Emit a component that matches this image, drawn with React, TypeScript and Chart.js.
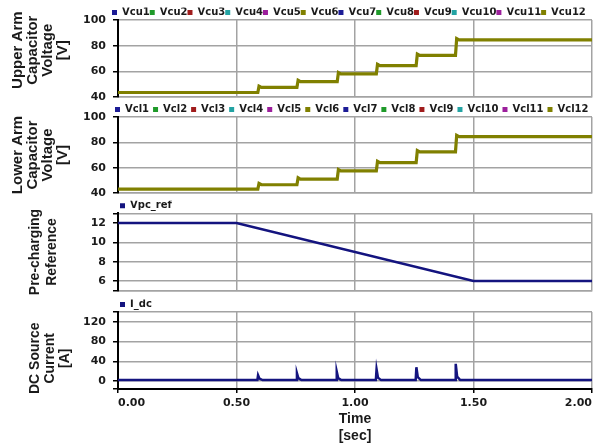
import React, { useEffect, useRef } from 'react';
import { Chart, registerables } from 'chart.js';

Chart.register(...registerables);

// ---------- data ----------
const timeTicks = [0, 0.5, 1.0, 1.5, 2.0];

const upperLabels = ['Vcu1', 'Vcu2', 'Vcu3', 'Vcu4', 'Vcu5', 'Vcu6', 'Vcu7', 'Vcu8', 'Vcu9', 'Vcu10', 'Vcu11', 'Vcu12'];
const lowerLabels = ['Vcl1', 'Vcl2', 'Vcl3', 'Vcl4', 'Vcl5', 'Vcl6', 'Vcl7', 'Vcl8', 'Vcl9', 'Vcl10', 'Vcl11', 'Vcl12'];
const seriesColors = ['#1c1c96', '#1f9a2a', '#a01c1c', '#23a3a3', '#9c1f9c', '#808000'];

const upperTime = [0, 0.59, 0.595, 0.605, 0.755, 0.76, 0.77, 0.925, 0.93, 0.94, 1.09, 1.095, 1.105, 1.258, 1.263, 1.273, 1.424, 1.429, 1.439, 2.0];
const upperVolt = [43.5, 43.5, 48.5, 47.5, 47.5, 53, 52, 52, 59, 58, 58, 65.5, 64.5, 64.5, 73.5, 72.5, 72.5, 85.5, 84.5, 84.5];

const lowerTime = [0, 0.59, 0.595, 0.605, 0.755, 0.76, 0.77, 0.925, 0.93, 0.94, 1.09, 1.095, 1.105, 1.258, 1.263, 1.273, 1.424, 1.429, 1.439, 2.0];
const lowerVolt = [43, 43, 47.5, 46.5, 46.5, 52, 51, 51, 58.5, 57.5, 57.5, 65, 64, 64, 73.5, 72.5, 72.5, 85.5, 84.5, 84.5];

const refTime = [0, 0.5, 1.5, 2.0];
const refValue = [12, 12, 6, 6];

const idcTime = [0, 0.588, 0.591, 0.597, 0.61, 0.752, 0.755, 0.761, 0.774, 0.92, 0.923, 0.929, 0.942, 1.088, 1.091, 1.097, 1.11, 1.256, 1.259, 1.265, 1.278, 1.422, 1.425, 1.431, 1.444, 2.0];
const idcValue = [2, 2, 12, 5, 2, 2, 16, 6, 2, 2, 19, 6, 2, 2, 24, 7, 2, 2, 28, 8, 2, 2, 35, 9, 2, 2];

const voltTicks = [40, 60, 80, 100];
const voltLabels = [40, 60, 80, 100];
const refTicks = [5, 6, 8, 10, 12, 13];
const refLabels = [6, 8, 10, 12];
const idcTicks = [-16, 0, 40, 80, 120, 140];
const idcLabels = [0, 40, 80, 120];

// ---------- styles ----------
const textColor = '#1a1a1a';
const gridColor = '#a3a3a3';
const tickFont = { family: 'DejaVu Sans', size: 11, weight: 'bold' as const };
const legendFont = { family: 'DejaVu Sans', size: 10, weight: 'bold' as const };

const legendX = {
  id: 'legendX',
  afterLayout(chart: any, _args: any, opts: any) {
    const lg = chart.legend;
    if (!lg || opts == null || opts.x == null) return;
    const w = lg.width;
    lg.left = opts.x;
    lg.right = opts.x + w;
  },
};

function points(xs: number[], ys: number[]) {
  return xs.map((x, k) => ({ x, y: ys[k] }));
}

type PanelCfg = {
  datasets: any[];
  padTop: number;
  padBottom: number;
  legendH: number;
  legendPad: number;
  legendLeft: number;
  yMin: number;
  yMax: number;
  yTicks: number[];
  yLabels: number[];
  yTitle: string[];
  yTitleFont: any;
  yTitlePad: number;
  showX: boolean;
};

function buildChart(canvas: HTMLCanvasElement, p: PanelCfg) {
  return new Chart(canvas, {
    type: 'line',
    data: { datasets: p.datasets },
    options: {
      responsive: false,
      animation: false,
      events: [],
      layout: { padding: { top: p.padTop, bottom: p.padBottom, left: 0, right: 2 } },
      plugins: {
        legend: {
          display: true,
          position: 'top',
          align: 'start',
          maxHeight: p.legendH,
          labels: {
            font: legendFont,
            color: textColor,
            boxWidth: 5,
            boxHeight: 5,
            padding: p.legendPad,
            generateLabels: (chart: any) =>
              (Chart.defaults.plugins.legend.labels as any)
                .generateLabels(chart)
                .map((l: any) => ({ ...l, lineWidth: 0 })),
            sort: (a: any, b: any) => a.datasetIndex - b.datasetIndex,
          },
        },
        tooltip: { enabled: false },
        legendX: { x: p.legendLeft },
      } as any,
      scales: {
        x: {
          type: 'linear',
          min: 0,
          max: 2,
          afterBuildTicks: (s: any) => {
            s.ticks = timeTicks.map((v) => ({ value: v }));
          },
          ticks: {
            display: p.showX,
            align: 'inner',
            padding: 3.5,
            font: tickFont,
            color: textColor,
            maxRotation: 0,
            autoSkip: false,
            callback: (v: any) => Number(v).toFixed(2),
          },
          grid: {
            color: gridColor,
            lineWidth: 1.5,
            drawTicks: p.showX,
            tickLength: 4,
            tickColor: '#000',
            tickWidth: 1.5,
          },
          border: { display: true, color: p.showX ? '#000' : gridColor, width: p.showX ? 2 : 1.5 },
          title: {
            display: p.showX,
            text: ['Time', '[sec]'],
            font: { family: 'Liberation Sans', size: 14, weight: 'bold', lineHeight: 1.2 },
            color: textColor,
            padding: { top: 0, bottom: 2.8 },
          },
          afterFit: (s: any) => {
            s.paddingLeft = 0;
            s.paddingRight = 0;
            if (p.showX) s.height = 58;
          },
        } as any,
        y: {
          min: p.yMin,
          max: p.yMax,
          afterBuildTicks: (s: any) => {
            s.ticks = p.yTicks.map((v) => ({ value: v }));
          },
          ticks: {
            font: tickFont,
            color: textColor,
            padding: 7,
            autoSkip: false,
            callback: (v: any) => (p.yLabels.includes(Number(v)) ? String(v) : ''),
          },
          grid: {
            color: gridColor,
            lineWidth: 1.5,
            tickLength: 5,
            tickColor: '#000',
            tickWidth: 1.5,
          },
          border: { display: true, color: '#000', width: 2 },
          title: {
            display: true,
            text: p.yTitle,
            font: p.yTitleFont,
            color: textColor,
            padding: { top: p.yTitlePad, bottom: 0 },
          },
          afterFit: (s: any) => {
            s.width = 118;
          },
        } as any,
      },
    },
    plugins: [legendX as any],
  });
}

function voltSets(labels: string[], xs: number[], ys: number[]) {
  return labels.map((label, i) => {
    const top = i === labels.length - 1;
    return {
      label,
      data: points(xs, ys),
      borderColor: seriesColors[i % seriesColors.length],
      backgroundColor: seriesColors[i % seriesColors.length],
      borderWidth: top ? 3.2 : 1.5,
      pointRadius: 0,
      tension: 0,
      order: top ? -1 : 0,
    };
  });
}

const titleFont15 = { family: 'Liberation Sans', size: 15, weight: 'bold', lineHeight: 1.0 };

const panels: PanelCfg[] = [
  {
    datasets: voltSets(upperLabels, upperTime, upperVolt),
    padTop: 7.5,
    padBottom: 350,
    legendH: 12.5,
    legendPad: 0,
    legendLeft: 112,
    yMin: 40,
    yMax: 100,
    yTicks: voltTicks,
    yLabels: voltLabels,
    yTitle: ['    Upper Arm', '    Capacitor', '    Voltage', '    [V]'],
    yTitleFont: titleFont15,
    yTitlePad: 10.5,
    showX: false,
  },
  {
    datasets: voltSets(lowerLabels, lowerTime, lowerVolt),
    padTop: 100.5,
    padBottom: 254,
    legendH: 16.5,
    legendPad: 4,
    legendLeft: 111,
    yMin: 40,
    yMax: 100,
    yTicks: voltTicks,
    yLabels: voltLabels,
    yTitle: ['Lower Arm', 'Capacitor', 'Voltage', '[V]'],
    yTitleFont: titleFont15,
    yTitlePad: 10.5,
    showX: false,
  },
  {
    datasets: [
      {
        label: 'Vpc_ref',
        data: points(refTime, refValue),
        borderColor: '#14147f',
        backgroundColor: '#14147f',
        borderWidth: 2.5,
        pointRadius: 0,
        tension: 0,
      },
    ],
    padTop: 200.8,
    padBottom: 156.3,
    legendH: 12.5,
    legendPad: 0,
    legendLeft: 120,
    yMin: 5,
    yMax: 13,
    yTicks: refTicks,
    yLabels: refLabels,
    yTitle: ['Pre-charging', 'Reference'],
    yTitleFont: { family: 'Liberation Sans', size: 14, weight: 'bold', lineHeight: 1.2 },
    yTitlePad: 26.6,
    showX: false,
  },
  {
    datasets: [
      {
        label: 'I_dc',
        data: points(idcTime, idcValue),
        borderColor: '#14147f',
        backgroundColor: '#14147f',
        borderWidth: 2.5,
        pointRadius: 0,
        tension: 0,
      },
    ],
    padTop: 299.5,
    padBottom: 0,
    legendH: 12.5,
    legendPad: 0,
    legendLeft: 120,
    yMin: -16,
    yMax: 140,
    yTicks: idcTicks,
    yLabels: idcLabels,
    yTitle: ['DC Source    ', 'Current    ', '[A]    '],
    yTitleFont: { family: 'Liberation Sans', size: 14, weight: 'bold', lineHeight: '15px' },
    yTitlePad: 27.5,
    showX: true,
  },
];

function Panel({ cfg }: { cfg: PanelCfg }) {
  const ref = useRef<HTMLCanvasElement | null>(null);
  useEffect(() => {
    if (!ref.current) return;
    const chart = buildChart(ref.current, cfg);
    return () => chart.destroy();
  }, [cfg]);
  return (
    <canvas
      ref={ref}
      width={594}
      height={447}
      style={{ position: 'absolute', left: 0, top: 0, width: 594, height: 447 }}
    />
  );
}

export default function App() {
  return (
    <div
      style={{
        position: 'absolute',
        left: 0,
        top: 0,
        width: 594,
        height: 447,
        background: '#ffffff',
        overflow: 'hidden',
      }}
    >
      {panels.map((cfg, i) => (
        <Panel key={i} cfg={cfg} />
      ))}
    </div>
  );
}
